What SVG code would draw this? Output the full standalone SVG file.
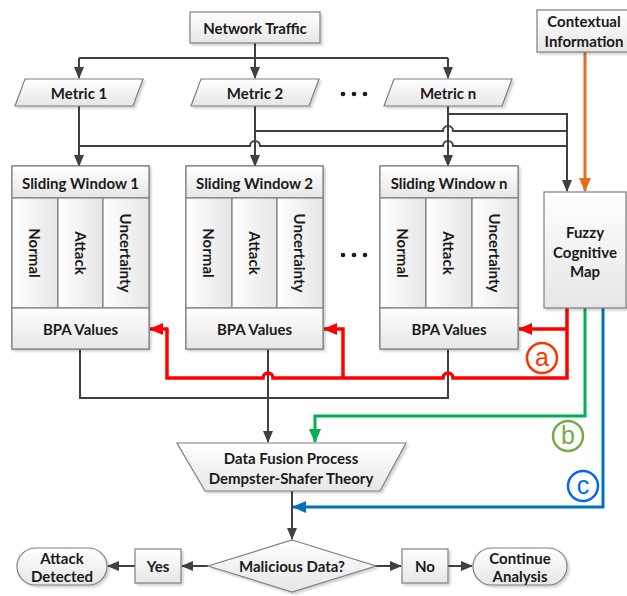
<svg xmlns="http://www.w3.org/2000/svg" width="627" height="596" viewBox="0 0 627 596">
<defs>
  <linearGradient id="g" x1="0" y1="0" x2="0" y2="1">
    <stop offset="0" stop-color="#ffffff"/>
    <stop offset="1" stop-color="#e6e6e6"/>
  </linearGradient>
  <linearGradient id="gh" x1="0" y1="0" x2="1" y2="0">
    <stop offset="0" stop-color="#ffffff"/>
    <stop offset="1" stop-color="#e6e6e6"/>
  </linearGradient>
  <filter id="sh" x="-10%" y="-10%" width="130%" height="130%">
    <feDropShadow dx="2" dy="2" stdDeviation="1" flood-color="#000" flood-opacity="0.18"/>
  </filter>
  <marker id="ak" markerUnits="userSpaceOnUse" markerWidth="12" markerHeight="12" viewBox="0 0 12 12" refX="11" refY="6" orient="auto">
    <path d="M0,1 L12,6 L0,11 Z" fill="#404040"/>
  </marker>
  <marker id="ar" markerUnits="userSpaceOnUse" markerWidth="14" markerHeight="14" viewBox="0 0 14 14" refX="13" refY="7" orient="auto">
    <path d="M0,1 L14,7 L0,13 Z" fill="#ff0000"/>
  </marker>
  <marker id="agr" markerUnits="userSpaceOnUse" markerWidth="14" markerHeight="14" viewBox="0 0 14 14" refX="13" refY="7" orient="auto">
    <path d="M0,1 L14,7 L0,13 Z" fill="#00b050"/>
  </marker>
  <marker id="abl" markerUnits="userSpaceOnUse" markerWidth="14" markerHeight="14" viewBox="0 0 14 14" refX="13" refY="7" orient="auto">
    <path d="M0,1 L14,7 L0,13 Z" fill="#0070c0"/>
  </marker>
  <marker id="aor" markerUnits="userSpaceOnUse" markerWidth="14" markerHeight="14" viewBox="0 0 14 14" refX="13" refY="7" orient="auto">
    <path d="M0,1 L14,7 L0,13 Z" fill="#e0721f"/>
  </marker>
</defs>
<style>
  .box { fill: url(#g); stroke: #7f7f7f; stroke-width: 1.2; filter: url(#sh); }
  .cell { fill: url(#gh); stroke: #7f7f7f; stroke-width: 1.2; }
  .row { fill: url(#g); stroke: #7f7f7f; stroke-width: 1.2; }
  .t { font-family: Lato, "Liberation Sans", sans-serif; font-weight: bold; font-size: 15px; fill: #1a1a1a; text-anchor: middle; dominant-baseline: central; }
  .k { fill: none; stroke: #404040; stroke-width: 2; }
  .ka { fill: none; stroke: #404040; stroke-width: 2; marker-end: url(#ak); }
  .red { fill: none; stroke: #ff0000; stroke-width: 3.5; }
  .dot { fill: #1a1a1a; }
  .lbl { font-family: "Liberation Sans", Arial, sans-serif; font-size: 25px; text-anchor: middle; dominant-baseline: central; }
</style>

<g id="connectors">
  <path class="k" d="M79,58 H448"/>
  <path class="ka" d="M255,43 V78"/>
  <path class="ka" d="M79,58 V78"/>
  <path class="ka" d="M448,58 V78"/>
  <path class="ka" d="M79,106 V166"/>
  <path class="ka" d="M255,106 V166"/>
  <path class="ka" d="M448,106 V166"/>
  <path class="ka" d="M448,114 H567 V191"/>
  <path class="k" d="M255,131 H443 a5,5 0 0 1 10,0 H567"/>
  <path class="k" d="M79,146 H250 a5,5 0 0 1 10,0 H443 a5,5 0 0 1 10,0 H567"/>
  <path fill="none" stroke="#e0721f" stroke-width="3" marker-end="url(#aor)" d="M585,52 V191"/>
  <path class="k" d="M80,349 V398 H448 V349"/>
  <path class="ka" d="M268,349 V442"/>
  <path class="red" d="M567,308 V378 H453 a5,5 0 0 0 -10,0 H273 a5,5 0 0 0 -10,0 H167 V329"/>
  <path class="red" marker-end="url(#ar)" d="M168.5,329 H150"/>
  <path class="red" marker-end="url(#ar)" d="M343,378 V329 H324"/>
  <path class="red" marker-end="url(#ar)" d="M567,329 H519"/>
  <path fill="none" stroke="#00b050" stroke-width="3" marker-end="url(#agr)" d="M585,308 V416 H315 V442"/>
  <path fill="none" stroke="#0070c0" stroke-width="3" marker-end="url(#abl)" d="M603,308 V507 H293"/>
  <path class="ka" d="M292,491 V539"/>
  <path class="ka" d="M208,566 H182"/>
  <path class="ka" d="M135,566 H108"/>
  <path class="ka" d="M375,566 H401"/>
  <path class="ka" d="M448,566 H472"/>
  <circle cx="542" cy="358" r="15" fill="none" stroke="#ff3300" stroke-width="2.5"/>
  <text class="lbl" x="542" y="357" fill="#ff3300">a</text>
  <circle cx="568" cy="436" r="15" fill="none" stroke="#70ad47" stroke-width="2.5"/>
  <text class="lbl" x="568" y="435" fill="#70ad47">b</text>
  <circle cx="583" cy="486" r="15" fill="none" stroke="#0066ff" stroke-width="2.5"/>
  <text class="lbl" x="583" y="485" fill="#0066ff">c</text>
</g>

<g id="network-traffic">
  <rect class="box" x="190" y="12" width="130" height="31"/>
  <text class="t" x="255" y="27.5">Network Traffic</text>
</g>
<g id="contextual-information">
  <rect class="box" x="537" y="10" width="92" height="42"/>
  <text class="t" x="584" y="21">Contextual</text>
  <text class="t" x="584" y="41">Information</text>
</g>

<g id="metric-1">
  <polygon class="box" points="25,79 143,79 133,106 15,106"/>
  <text class="t" x="79" y="92.5">Metric 1</text>
</g>
<g id="metric-2">
  <polygon class="box" points="201,79 319,79 309,106 191,106"/>
  <text class="t" x="255" y="92.5">Metric 2</text>
</g>
<g id="metric-dots">
  <circle class="dot" cx="343" cy="94" r="2.3"/>
  <circle class="dot" cx="354" cy="94" r="2.3"/>
  <circle class="dot" cx="365" cy="94" r="2.3"/>
</g>
<g id="metric-n">
  <polygon class="box" points="394,79 512,79 502,106 384,106"/>
  <text class="t" x="448" y="92.5">Metric n</text>
</g>

<g id="sliding-window-1">
  <rect class="box" x="12" y="166" width="137" height="183"/>
  <rect class="row" x="12" y="166" width="137" height="32"/>
  <rect class="cell" x="12" y="198" width="46" height="110"/>
  <rect class="cell" x="58" y="198" width="45" height="110"/>
  <rect class="cell" x="103" y="198" width="46" height="110"/>
  <rect class="row" x="12" y="308" width="137" height="41"/>
  <text class="t" x="80.5" y="183">Sliding Window 1</text>
  <text class="t" transform="translate(35,253) rotate(90)">Normal</text>
  <text class="t" transform="translate(80.5,253) rotate(90)">Attack</text>
  <text class="t" transform="translate(126,253) rotate(90)">Uncertainty</text>
  <text class="t" x="80.5" y="329">BPA Values</text>
</g>
<g id="sliding-window-2">
  <rect class="box" x="186" y="166" width="137" height="183"/>
  <rect class="row" x="186" y="166" width="137" height="32"/>
  <rect class="cell" x="186" y="198" width="46" height="110"/>
  <rect class="cell" x="232" y="198" width="45" height="110"/>
  <rect class="cell" x="277" y="198" width="46" height="110"/>
  <rect class="row" x="186" y="308" width="137" height="41"/>
  <text class="t" x="254.5" y="183">Sliding Window 2</text>
  <text class="t" transform="translate(209,253) rotate(90)">Normal</text>
  <text class="t" transform="translate(254.5,253) rotate(90)">Attack</text>
  <text class="t" transform="translate(300,253) rotate(90)">Uncertainty</text>
  <text class="t" x="254.5" y="329">BPA Values</text>
</g>
<g id="window-dots">
  <circle class="dot" cx="343" cy="255" r="2.3"/>
  <circle class="dot" cx="354" cy="255" r="2.3"/>
  <circle class="dot" cx="365" cy="255" r="2.3"/>
</g>
<g id="sliding-window-n">
  <rect class="box" x="380" y="166" width="138" height="183"/>
  <rect class="row" x="380" y="166" width="138" height="32"/>
  <rect class="cell" x="380" y="198" width="46" height="110"/>
  <rect class="cell" x="426" y="198" width="46" height="110"/>
  <rect class="cell" x="472" y="198" width="46" height="110"/>
  <rect class="row" x="380" y="308" width="138" height="41"/>
  <text class="t" x="449" y="183">Sliding Window n</text>
  <text class="t" transform="translate(403,253) rotate(90)">Normal</text>
  <text class="t" transform="translate(449,253) rotate(90)">Attack</text>
  <text class="t" transform="translate(495,253) rotate(90)">Uncertainty</text>
  <text class="t" x="449" y="329">BPA Values</text>
</g>

<g id="fuzzy-cognitive-map">
  <rect class="box" x="544" y="192" width="82" height="116"/>
  <text class="t" x="585" y="232">Fuzzy</text>
  <text class="t" x="585" y="252">Cognitive</text>
  <text class="t" x="585" y="271">Map</text>
</g>

<g id="data-fusion">
  <polygon class="box" points="177,443 406,443 380,491 205,491"/>
  <text class="t" x="291" y="458">Data Fusion Process</text>
  <text class="t" x="291" y="478">Dempster-Shafer Theory</text>
</g>

<g id="malicious-data">
  <polygon class="box" points="292,540 376,566 292,592 208,566"/>
  <text class="t" x="292" y="566">Malicious Data?</text>
</g>
<g id="yes">
  <rect class="box" x="135" y="549" width="46" height="34"/>
  <text class="t" x="158" y="566">Yes</text>
</g>
<g id="attack-detected">
  <rect class="box" x="17" y="548" width="90" height="37" rx="18.5"/>
  <text class="t" x="62" y="558">Attack</text>
  <text class="t" x="62" y="576">Detected</text>
</g>
<g id="no">
  <rect class="box" x="402" y="549" width="46" height="34"/>
  <text class="t" x="425" y="566">No</text>
</g>
<g id="continue-analysis">
  <rect class="box" x="473" y="548" width="94" height="37" rx="18.5"/>
  <text class="t" x="520" y="558">Continue</text>
  <text class="t" x="520" y="576">Analysis</text>
</g>
</svg>
